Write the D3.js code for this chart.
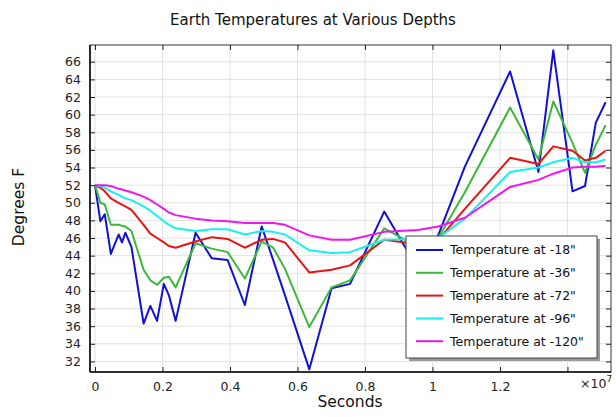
<!DOCTYPE html>
<html>
<head>
  <meta charset='utf-8'>
  <title>Earth Temperatures at Various Depths</title>
  <script src="https://cdnjs.cloudflare.com/ajax/libs/d3/7.8.5/d3.min.js"></script>
  <style>
    html, body { margin: 0; padding: 0; background: #fff; }
    svg { display: block; font-family: "DejaVu Sans", sans-serif; }
  </style>
</head>
<body>
<script>
// time in units of 1e7 seconds
const timeE7 = [0, 0.016, 0.029, 0.047, 0.070, 0.080, 0.090, 0.108, 0.144, 0.164, 0.184, 0.204, 0.219, 0.239,
  0.298, 0.346, 0.393, 0.444, 0.494, 0.528, 0.563, 0.635, 0.701, 0.756, 0.857, 0.957, 1.017, 1.096,
  1.230, 1.314, 1.358, 1.415, 1.452, 1.484, 1.513]

const temp18 = [52.0, 47.9, 48.7, 44.2, 46.4, 45.5, 46.6, 45.0, 36.3, 38.3, 36.6, 40.8, 39.5, 36.6,
  46.6, 43.7, 43.5, 38.4, 47.3, 43.5, 39.5, 31.1, 40.3, 40.8, 49.0, 42.5, 46.3, 54.1,
  64.9, 53.5, 67.3, 51.3, 51.9, 59.1, 61.4]
const temp36 = [52.0, 50.0, 49.8, 47.5, 47.5, 47.4, 47.3, 46.8, 42.4, 41.2, 40.7, 41.5, 41.6, 40.4,
  45.4, 44.8, 44.4, 41.4, 45.6, 44.9, 42.5, 35.9, 40.4, 41.2, 47.1, 45.0, 46.0, 51.2,
  60.8, 54.9, 61.5, 56.8, 53.4, 56.6, 58.8]
const temp72 = [52.0, 51.7, 51.3, 50.5, 50.0, 49.8, 49.6, 49.2, 47.5, 46.5, 46.0, 45.5, 45.1, 44.9,
  45.6, 46.1, 45.9, 44.9, 45.8, 45.9, 45.5, 42.1, 42.4, 42.9, 45.8, 45.3, 45.8, 49.3,
  55.1, 54.4, 56.4, 55.9, 54.8, 55.1, 55.9]
const temp96 = [52.0, 51.9, 51.7, 51.3, 50.9, 50.7, 50.5, 50.3, 49.6, 49.1, 48.5, 47.9, 47.5, 47.1,
  46.8, 47.0, 47.0, 46.4, 46.8, 46.7, 46.4, 44.6, 44.3, 44.4, 45.8, 45.9, 46.0, 48.2,
  53.5, 54.0, 54.6, 55.1, 54.6, 54.6, 54.9]
const temp120 = [52.0, 52.0, 52.0, 51.9, 51.6, 51.5, 51.4, 51.2, 50.7, 50.3, 49.8, 49.3, 48.9, 48.6,
  48.2, 48.0, 47.9, 47.7, 47.7, 47.7, 47.5, 46.3, 45.8, 45.8, 46.7, 46.9, 47.3, 48.3,
  51.8, 52.6, 53.3, 54.0, 54.1, 54.1, 54.2]

const seriesNames = ['Temperature at -18"', 'Temperature at -36"', 'Temperature at -72"',
  'Temperature at -96"', 'Temperature at -120"']
const xTicks = [0, 0.2, 0.4, 0.6, 0.8, 1, 1.2, 1.4]
const xTickLabels = ['0', '0.2', '0.4', '0.6', '0.8', '1', '1.2', '']
const yTicks = d3.range(32, 67, 2)

const series = [temp18, temp36, temp72, temp96, temp120].map((vals, i) => ({
  name: seriesNames[i],
  points: vals.map((v, j) => ({ t: timeE7[j], v: v }))
}))

const W = 616, H = 417
const plot = { left: 90, right: 611, top: 45, bottom: 372 }

const svg = d3.select("body").append("svg")
  .attr("width", W)
  .attr("height", H)

const x = d3.scaleLinear()
  .domain([-0.0148, 1.529])
  .range([plot.left, plot.right])
const y = d3.scaleLinear()
  .domain([30.8, 67.9])
  .range([plot.bottom, plot.top])

const color = d3.scaleOrdinal()
  .domain(seriesNames)
  .range(['#1111d4', '#3db83d', '#e81414', '#18f0f0', '#ee18ee'])

// grid
svg.append("g")
  .selectAll("line")
  .data(xTicks)
  .join("line")
    .attr("x1", d => x(d)).attr("x2", d => x(d))
    .attr("y1", plot.top).attr("y2", plot.bottom)
    .attr("stroke", "#e2e2e2")
svg.append("g")
  .selectAll("line")
  .data(yTicks)
  .join("line")
    .attr("x1", plot.left).attr("x2", plot.right)
    .attr("y1", d => y(d)).attr("y2", d => y(d))
    .attr("stroke", "#e2e2e2")

// lines
const line = d3.line()
  .x(d => x(d.t))
  .y(d => y(d.v))

svg.append("g")
  .selectAll("path")
  .data(series)
  .join("path")
    .attr("fill", "none")
    .attr("stroke", d => color(d.name))
    .attr("stroke-width", 2)
    .attr("stroke-linejoin", "round")
    .attr("d", d => line(d.points))

// frame
svg.append("rect")
  .attr("x", plot.left).attr("y", plot.top)
  .attr("width", plot.right - plot.left).attr("height", plot.bottom - plot.top)
  .attr("fill", "none").attr("stroke", "#333")

// axes, ticks pointing inward
const axBottom = svg.append("g")
  .attr("transform", `translate(0,${plot.bottom})`)
  .call(d3.axisBottom(x).tickValues(xTicks).tickSizeInner(-5).tickSizeOuter(0).tickPadding(10)
    .tickFormat((d, i) => xTickLabels[i]))
const axTop = svg.append("g")
  .attr("transform", `translate(0,${plot.top})`)
  .call(d3.axisTop(x).tickValues(xTicks).tickSizeInner(-5).tickSizeOuter(0).tickFormat(""))
const axLeft = svg.append("g")
  .attr("transform", `translate(${plot.left},0)`)
  .call(d3.axisLeft(y).tickValues(yTicks).tickSizeInner(-5).tickSizeOuter(0).tickPadding(9))
const axRight = svg.append("g")
  .attr("transform", `translate(${plot.right},0)`)
  .call(d3.axisRight(y).tickValues(yTicks).tickSizeInner(-5).tickSizeOuter(0).tickFormat(""))

for (const ax of [axBottom, axTop, axLeft, axRight]) {
  ax.select(".domain").remove()
  ax.selectAll(".tick line").attr("stroke", "#222")
  ax.selectAll("text")
    .attr("font-family", "DejaVu Sans, sans-serif")
    .attr("font-size", 12.5)
    .attr("fill", "#222")
}
// heavier left and bottom axis lines
svg.append("line")
  .attr("x1", plot.left).attr("x2", plot.left)
  .attr("y1", plot.top).attr("y2", plot.bottom)
  .attr("stroke", "#111").attr("stroke-width", 1.6)
svg.append("line")
  .attr("x1", plot.left).attr("x2", plot.right)
  .attr("y1", plot.bottom).attr("y2", plot.bottom)
  .attr("stroke", "#111").attr("stroke-width", 1.6)

// exponent label
const expo = svg.append("text")
  .attr("x", 580).attr("y", 388)
  .attr("font-size", 12.5)
  .attr("fill", "#222")
expo.append("tspan").text("×10")
expo.append("tspan").attr("dy", -6).attr("font-size", 9).text("7")

// titles
svg.append("text")
  .attr("x", 313).attr("y", 25)
  .attr("text-anchor", "middle")
  .attr("font-size", 15)
  .attr("fill", "#111")
  .text("Earth Temperatures at Various Depths")
svg.append("text")
  .attr("x", 350).attr("y", 407)
  .attr("text-anchor", "middle")
  .attr("font-size", 15.5)
  .attr("fill", "#111")
  .text("Seconds")
svg.append("text")
  .attr("transform", "translate(24,207) rotate(-90)")
  .attr("text-anchor", "middle")
  .attr("font-size", 15.5)
  .attr("fill", "#111")
  .text("Degrees F")

// legend
const lg = { x: 406, y: 236, w: 191, h: 122 }
svg.append("rect")
  .attr("x", lg.x + 3).attr("y", lg.y + 3)
  .attr("width", lg.w).attr("height", lg.h)
  .attr("fill", "#9a9a9a")
svg.append("rect")
  .attr("x", lg.x).attr("y", lg.y)
  .attr("width", lg.w).attr("height", lg.h)
  .attr("fill", "#fff").attr("stroke", "#444")

const items = svg.append("g")
  .selectAll("g")
  .data(seriesNames)
  .join("g")
    .attr("transform", (d, i) => `translate(${lg.x},${lg.y + 14 + i * 22.8})`)
items.append("line")
  .attr("x1", 10).attr("x2", 37)
  .attr("stroke", d => color(d))
  .attr("stroke-width", 2)
items.append("text")
  .attr("x", 44).attr("dy", "0.35em")
  .attr("font-size", 12.5)
  .attr("fill", "#111")
  .text(d => d)
</script>
</body>
</html>
